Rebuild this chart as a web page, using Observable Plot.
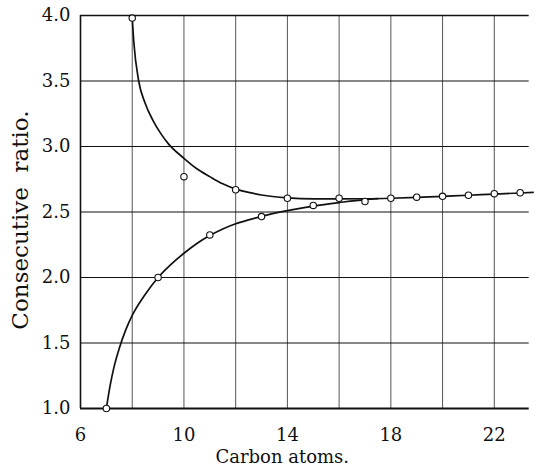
<!DOCTYPE html>
<html>
<head>
<meta charset="utf-8">
<script src="https://cdn.jsdelivr.net/npm/d3@7"></script>
<script src="https://cdn.jsdelivr.net/npm/@observablehq/plot@0.6"></script>
<style>
  html, body { margin: 0; padding: 0; background: #fff; }
</style>
</head>
<body>
<div id="chart"></div>
<script>
// Observed points (carbon atoms vs consecutive ratio)
const pointCarbon = [7, 8, 9, 10, 11, 12, 13, 14, 15, 16, 17, 18, 19, 20, 21, 22, 23];
const pointRatio  = [1.0, 3.98, 2.0, 2.77, 2.325, 2.67, 2.465, 2.605, 2.55, 2.605, 2.58, 2.605, 2.613, 2.62, 2.628, 2.64, 2.647];

// Smooth upper curve
const upperCurveX = [8, 8.06, 8.25, 8.5, 8.8, 9.1, 9.4, 10, 10.5, 11, 11.5, 12, 12.5, 13, 14, 15, 16, 17, 18, 19, 20, 21, 22, 23, 23.5];
const upperCurveY = [3.98, 3.8, 3.5, 3.33, 3.2, 3.1, 3.02, 2.91, 2.83, 2.77, 2.715, 2.675, 2.65, 2.63, 2.608, 2.60, 2.60, 2.601, 2.605, 2.612, 2.62, 2.628, 2.637, 2.645, 2.65];

// Smooth lower curve
const lowerCurveX = [7, 7.15, 7.3, 7.5, 7.75, 8, 8.5, 9, 9.5, 10, 10.5, 11, 11.5, 12, 12.5, 13, 14, 15, 16, 17, 17.5];
const lowerCurveY = [1.0, 1.18, 1.32, 1.46, 1.6, 1.71, 1.87, 2.0, 2.1, 2.185, 2.26, 2.32, 2.37, 2.41, 2.44, 2.467, 2.51, 2.545, 2.572, 2.595, 2.602];

// Ticks and labels
const xTickValues = [6, 10, 14, 18, 22];
const xGridValues = [8, 10, 12, 14, 16, 18, 20, 22];
const yTickValues = [1.0, 1.5, 2.0, 2.5, 3.0, 3.5, 4.0];
const xLabel = "Carbon atoms.";
const yLabel = "Consecutive  ratio.";
const xLabelAt = [13.8];

const points = pointCarbon.map((c, i) => ({c, r: pointRatio[i]}));
const upper = upperCurveX.map((c, i) => ({c, r: upperCurveY[i]}));
const lower = lowerCurveX.map((c, i) => ({c, r: lowerCurveY[i]}));

const xMin = 6, xMax = 23.4, xLineEnd = 23.35;

const chart = Plot.plot({
  width: 539,
  height: 471,
  marginLeft: 80,
  marginRight: 9,
  marginTop: 15,
  marginBottom: 63,
  style: {fontFamily: "'DejaVu Serif', serif", fontSize: "17px", color: "#111", background: "#fff"},
  x: {domain: [xMin, xMax]},
  y: {domain: [1, 4]},
  marks: [
    Plot.ruleX(xGridValues, {stroke: "#555", strokeWidth: 1}),
    Plot.ruleY(yTickValues.filter(v => v > 1 && v < 4), {x1: xMin, x2: xLineEnd, stroke: "#111", strokeWidth: 1.2}),
    Plot.ruleY([4], {x1: xMin, x2: xLineEnd, stroke: "#111", strokeWidth: 1.6}),
    Plot.ruleY([1], {x1: xMin, x2: xLineEnd, stroke: "#111", strokeWidth: 2}),
    Plot.ruleX([xMin], {stroke: "#111", strokeWidth: 1.6}),
    Plot.line(upper, {x: "c", y: "r", curve: "monotone-x", stroke: "#111", strokeWidth: 1.7}),
    Plot.line(lower, {x: "c", y: "r", curve: "monotone-x", stroke: "#111", strokeWidth: 1.7}),
    Plot.dot(points, {x: "c", y: "r", r: 3.2, fill: "#fff", stroke: "#111", strokeWidth: 1.1}),
    Plot.axisX({ticks: xTickValues, tickSize: 0, tickPadding: 20, label: null, fontSize: 18, tickFormat: d => String(d)}),
    Plot.axisY({ticks: yTickValues, tickSize: 0, tickPadding: 10, label: null, fontSize: 18, tickFormat: d => d.toFixed(1)}),
    Plot.text([yLabel], {frameAnchor: "left", textAnchor: "middle", dx: -60, dy: 8, rotate: -90, fontSize: 23, fill: "#111"}),
    Plot.text([xLabel], {x: () => xLabelAt[0], frameAnchor: "bottom", dy: 54, fontSize: 18, fill: "#111"})
  ]
});
document.getElementById("chart").appendChild(chart);
</script>
</body>
</html>
